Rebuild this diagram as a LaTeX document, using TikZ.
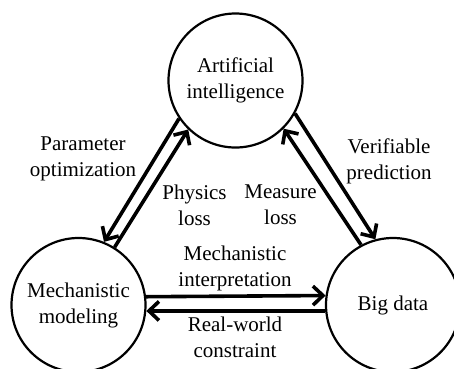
\documentclass[tikz,border=0pt]{standalone}
\usepackage{fontspec}
\setmainfont{Liberation Serif}
\usetikzlibrary{arrows.meta}

\tikzset{
  topic/.style={circle, draw, line width=2.2pt, minimum size=134pt, inner sep=0pt,
    align=center, font=\fontsize{21}{26}\selectfont},
  flow/.style={line width=3.6pt, -{Straight Barb[length=10pt,width=19pt]}},
  caption/.style={align=center, font=\fontsize{21}{26}\selectfont, inner sep=0pt}
}

\begin{document}
\begin{tikzpicture}[x=1pt, y=-1pt]
  \useasboundingbox (0,0) rectangle (454,368);

  % the three topics
  \node[topic] (ai)  at (235.5,80.5) {Artificial\\intelligence};
  \node[topic] (mm)  at (78.5,305)   {Mechanistic\\modeling};
  \node[topic] (bd)  at (393,305)    {Big data};

  % AI <-> mechanistic modeling
  \draw[flow] (ai.214.7) -- (mm.68.6);
  \draw[flow] (mm.58) -- (ai.226.8);

  % AI <-> big data
  \draw[flow] (ai.-29) -- (bd.105.3);
  \draw[flow] (bd.118.8) -- (ai.-45);

  % mechanistic modeling <-> big data
  \draw[flow] (mm.7.7) -- (bd.172.3);
  \draw[flow] (bd.185.1) -- (mm.-5.1);

  % labels
  \node[caption] (lpo) at (83,159)    {Parameter\\optimization};
  \node[caption] (lpl) at (194.5,205) {Physics\\loss};
  \node[caption] (lml) at (280.5,205) {Measure\\loss};
  \node[caption] (lvp) at (389,161)   {Verifiable\\prediction};
  \node[caption] (lmi) at (235,268)   {Mechanistic\\interpretation};
  \node[caption] (lrc) at (235,337)   {Real-world\\constraint};
\end{tikzpicture}
\end{document}
